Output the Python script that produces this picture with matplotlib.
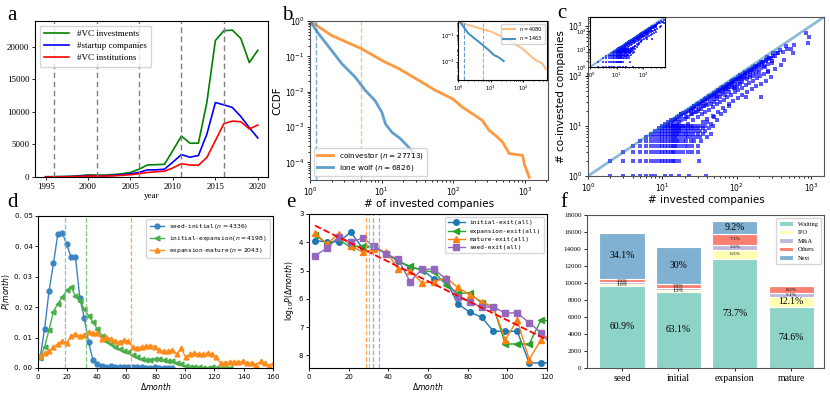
import numpy as np
import matplotlib
matplotlib.use('Agg')
import matplotlib.pyplot as plt

plt.rcParams['mathtext.fontset'] = 'dejavusans'
plt.rcParams['axes.linewidth'] = 0.8
plt.rcParams['xtick.major.width'] = 0.6
plt.rcParams['ytick.major.width'] = 0.6
plt.rcParams['xtick.major.size'] = 2.5
plt.rcParams['ytick.major.size'] = 2.5
plt.rcParams['xtick.minor.size'] = 1.5
plt.rcParams['ytick.minor.size'] = 1.5
plt.rcParams['legend.handlelength'] = 2.2

SERIF = ['Liberation Serif', 'DejaVu Serif']
MONO = ['DejaVu Sans Mono']

# ---- a: yearly counts
years = [1995, 1996, 1997, 1998, 1999, 2000, 2001, 2002, 2003, 2004, 2005, 2006, 2007,
         2008, 2009, 2010, 2011, 2012, 2013, 2014, 2015, 2016, 2017, 2018, 2019, 2020]
vc_investments = [50, 60, 80, 120, 200, 330, 300, 300, 380, 500, 700, 1200, 1850,
                  1900, 1950, 4100, 6300, 5200, 5200, 11500, 21000, 22500, 22600, 21300, 17600, 19500]
startup_companies = [20, 30, 40, 60, 120, 200, 200, 200, 250, 350, 500, 700, 1100,
                     1100, 1200, 2300, 3450, 3050, 3300, 6600, 11450, 11100, 10700, 9300, 7600, 6000]
vc_institutions = [10, 20, 30, 40, 80, 150, 150, 150, 180, 250, 350, 500, 700,
                   800, 900, 1400, 2050, 1850, 1800, 3000, 5600, 8200, 8600, 8500, 7400, 8000]
period_marks = [1996, 2001, 2006, 2011, 2016]

# ---- b: CCDF of invested companies
coinv_x = [1, 2, 5.2, 10.7, 17.4, 33, 56, 98, 133, 184, 254, 316, 390, 486, 570, 600, 930, 980, 1150]
coinv_ccdf = [1, 0.39, 0.166, 0.072, 0.045, 0.021, 0.011, 0.0063, 0.0037, 0.0024, 0.00155,
              0.00081, 0.00058, 0.00038, 0.00022, 0.00018, 0.000158, 0.00009, 0.000038]
lone_x = [1, 1.31, 2.0, 2.78, 4.27, 5.9, 8.1, 10.1, 11.3, 13.9, 18.3, 23.9, 29.6]
lone_ccdf = [1, 0.44, 0.148, 0.062, 0.026, 0.011, 0.0056, 0.0026, 0.00123, 0.00072,
             0.00047, 0.00027, 0.00016]
coinv_mark, lone_mark = 5.2, 1.21
# inset
sub_coinv_x = [1, 3.4, 11, 35.5, 91, 234, 372, 490]
sub_coinv_ccdf = [1, 0.42, 0.178, 0.042, 0.01, 0.0013, 0.00075, 0.00028]
sub_lone_x = [1.15, 2.1, 4.3, 8.7, 12.4, 17.6, 25]
sub_lone_ccdf = [1, 0.133, 0.032, 0.0075, 0.0032, 0.0021, 0.0011]
sub_coinv_mark, sub_lone_mark = 6.0, 1.56

# ---- c: invested vs co-invested
lattice_y = [1, 2, 3, 4, 5, 6, 7, 8, 9, 10]
lattice_x = [
    [2, 3, 4, 5, 6, 7, 8, 11, 13, 17, 23, 39],
    [2, 3, 4, 5, 6, 7, 8, 9, 10, 11, 12, 13, 14, 15, 17, 31],
    [3, 4, 5, 6, 7, 8, 9, 10, 11, 12, 13, 14, 15, 17, 19, 22, 25, 30],
    [4, 5, 6, 7, 8, 9, 10, 11, 12, 13, 14, 15, 16, 18, 20, 22, 25, 30],
    [5, 6, 7, 8, 9, 10, 11, 12, 13, 14, 15, 16, 17, 19, 21, 24, 27, 33],
    [6, 7, 8, 9, 10, 11, 12, 13, 14, 15, 16, 18, 20, 22, 25, 28, 32, 40],
    [7, 8, 9, 10, 11, 12, 13, 14, 15, 16, 17, 19, 21, 23, 26, 30, 35, 45],
    [8, 9, 10, 11, 12, 13, 14, 15, 16, 17, 18, 20, 22, 25, 28, 32, 38],
    [9, 10, 11, 12, 13, 14, 15, 16, 17, 18, 20, 22, 24, 27, 30, 35, 42],
    [10, 11, 12, 13, 14, 15, 16, 17, 18, 19, 20, 22, 24, 26, 29, 33, 38, 48],
]
cloud_x = [11, 12, 13, 14, 15, 16, 17, 18, 20, 20, 22, 22, 24, 25, 26, 28, 28, 30, 30, 32,
           33, 35, 36, 38, 40, 40, 42, 45, 45, 48, 50, 50, 52, 55, 55, 58, 60, 60, 63, 65,
           68, 70, 70, 72, 75, 78, 80, 80, 85, 88, 90, 92, 95, 100, 100, 105, 110, 110, 115,
           120, 120, 125, 130, 135, 140, 140, 150, 150, 160, 165, 170, 180, 180, 190, 200,
           200, 215, 220, 230, 240, 250, 265, 270, 290, 300, 325, 330, 360, 400, 420, 440,
           480, 540, 570, 600, 870, 910, 950, 45, 55, 40, 35, 50, 62, 70, 80, 94, 18, 24,
           27, 34, 44, 58, 66, 76, 86, 98, 112, 128, 145, 175, 210, 260, 310, 380, 460,
           12, 13, 14, 15, 16, 17, 18, 19, 21, 23, 25, 27, 29, 31, 34, 37, 39, 43, 46, 49,
           53, 57, 61, 66, 71, 77, 83, 89, 96, 104, 112, 121, 131, 142, 155, 168, 183, 200,
           220, 245, 275, 310, 350,
           14, 16, 18, 21, 24, 27, 31, 35, 39, 44, 49, 55, 62, 69, 77, 86, 96, 107, 120, 134,
           150, 168, 188, 210, 235, 265, 300,
           22, 26, 30, 34, 38, 43, 48, 54, 60, 67, 75, 84, 94, 105, 118, 132, 148, 166, 186,
           208, 233, 262,
           40, 48, 57, 66, 78, 90, 104, 120, 140, 160, 185, 215, 250, 290]
cloud_y = [11, 11, 12, 11, 13, 14, 12, 16, 18, 14, 20, 15, 21, 17, 23, 24, 19, 27, 20, 26,
           22, 31, 25, 33, 34, 26, 37, 38, 28, 42, 44, 30, 40, 47, 35, 50, 52, 38, 55, 48,
           58, 60, 42, 55, 64, 60, 70, 48, 72, 66, 78, 56, 80, 85, 62, 88, 92, 70, 95,
           100, 75, 90, 110, 38, 115, 85, 120, 95, 130, 100, 140, 150, 110, 155, 165,
           120, 38, 170, 190, 150, 200, 120, 215, 230, 180, 140, 250, 280, 165, 300, 205,
           350, 350, 290, 420, 705, 445, 600, 11, 13, 12, 12, 15, 17, 20, 25, 56, 17, 22,
           25, 30, 40, 52, 60, 68, 78, 88, 100, 115, 130, 160, 190, 235, 280, 330, 400,
           12, 13, 13, 14, 15, 16, 17, 18, 19, 21, 23, 25, 27, 29, 31, 34, 36, 39, 42, 45,
           48, 52, 56, 60, 65, 70, 76, 82, 88, 95, 102, 110, 118, 128, 138, 150, 160, 175,
           190, 210, 230, 255, 280,
           10, 11, 13, 15, 17, 19, 22, 25, 28, 31, 35, 39, 44, 49, 55, 61, 68, 76, 85, 95,
           105, 118, 130, 145, 160, 175, 195,
           11, 13, 15, 17, 19, 21, 24, 27, 30, 33, 37, 42, 47, 52, 58, 65, 72, 80, 90,
           100, 110, 125,
           14, 16, 19, 23, 27, 31, 36, 42, 48, 55, 62, 70, 80, 95]

# ---- d: waiting time between stages
d_month = [1.5, 4.5, 7.5, 10.5, 13.5, 16.5, 19.5, 22.5, 25.5, 28.5, 31.5, 34.5, 37.5, 40.5,
           43.5, 46.5, 49.5, 52.5, 55.5, 58.5, 61.5, 64.5, 67.5, 70.5, 73.5, 76.5, 79.5, 82.5,
           85.5, 88.5, 91.5, 94.5, 97.5, 100.5, 103.5, 106.5, 109.5, 112.5, 115.5, 118.5,
           121.5, 124.5, 127.5, 130.5, 133.5, 136.5, 139.5, 142.5, 145.5, 148.5, 151.5,
           154.5, 157.5, 160.5]
p_seed_initial = [0.0036, 0.0129, 0.0253, 0.0344, 0.0441, 0.0445, 0.0407, 0.0365, 0.0365,
                  0.0229, 0.0166, 0.0084, 0.0025, 0.0014, 0.0005, 0.0004, 0.0006, 0.0003,
                  0.0003, 0.0002, 0.0003, 0.0002, 0.0002, 0.0002, 0.0001, 0.0001, 0.0002,
                  0.0001, 0.0001, 0.0001, 0.0001]
p_initial_expansion = [0.0033, 0.0070, 0.0125, 0.0185, 0.0212, 0.0232, 0.0255, 0.0268, 0.0236,
                       0.0222, 0.0193, 0.0172, 0.0150, 0.0128, 0.0106, 0.0090, 0.0078, 0.0068,
                       0.0062, 0.0056, 0.0052, 0.0042, 0.0036, 0.0030, 0.0026, 0.0026, 0.0031,
                       0.0028, 0.0026, 0.0024, 0.0022, 0.0018, 0.0012, 0.0006, 0.0004, 0.0003,
                       0.0002, 0.0001, 0.0001, 0.0002, 0.0001, 0.0001, 0.0001, 0.0001]
p_expansion_mature = [0.0038, 0.0050, 0.0055, 0.0068, 0.0080, 0.0088, 0.0082, 0.0105, 0.0112,
                      0.0105, 0.0110, 0.0120, 0.0115, 0.0115, 0.0095, 0.0102, 0.0095, 0.0088,
                      0.0085, 0.0092, 0.0088, 0.0068, 0.0065, 0.0070, 0.0072, 0.0074, 0.0070,
                      0.0060, 0.0055, 0.0055, 0.0060, 0.0045, 0.0065, 0.0035, 0.0045, 0.0050,
                      0.0045, 0.0045, 0.0050, 0.0045, 0.0035, 0.0015, 0.0018, 0.0020, 0.0020,
                      0.0020, 0.0022, 0.0015, 0.0018, 0.0010, 0.0022, 0.0015, 0.0008, 0.0018]
d_marks = [18.2, 32.7, 63.6]

# ---- e: time to exit
e_month = [3, 9, 15, 21, 27, 33, 39, 45, 51, 57, 63, 69, 75, 81, 87, 93, 99, 105, 111, 117, 123]
lp_initial_exit = [3.94, 3.99, 3.99, 3.64, 4.20, 4.15, 4.42, 4.65, 4.90, 4.95, 5.31, 5.33,
                   6.18, 6.47, 6.65, 7.15, 7.15, 7.15, 8.27, 8.27, 8.27]
lp_expansion_exit = [3.73, 4.05, 3.90, 4.18, 4.12, 4.15, 4.40, 4.68, 4.85, 5.00, 5.05, 5.50,
                     5.80, 5.80, 6.15, 6.30, 7.60, 7.60, 7.60, 6.75, 6.80]
lp_mature_exit = [3.68, 4.05, 3.70, 4.12, 4.35, 4.25, 4.35, 4.95, 5.00, 5.45, 5.40, 5.25,
                  5.60, 5.85, 6.10, 6.30, 7.45, 6.75, 8.15, 7.45, 7.20]
lp_seed_exit = [4.47, 4.22, 3.80, 4.00, 3.85, 4.15, 4.42, 4.60, 5.40, 4.95, 4.95, 5.30,
                5.95, 6.10, 6.30, 6.30, 6.50, 6.50, 6.85, 7.20, 7.70]
fit_month = [3, 120]
fit_lp = [3.41, 7.45]
e_marks = [28.7, 30.0, 32.5, 35.4]

# ---- f: outcome of each stage
stages = ['seed', 'initial', 'expansion', 'mature']
stage_totals = [15920, 14230, 17370, 9630]
outcomes = ['Waiting', 'IPO', 'M&A', 'Others', 'Next']
pct_waiting = [60.9, 63.1, 73.7, 74.6]
pct_ipo = [1.0, 1.2, 6.5, 12.1]
pct_mna = [1.5, 1.5, 3.3, 5.1]
pct_others = [2.5, 3.9, 7.1, 8.2]
pct_next = [34.1, 30.0, 9.2, 0.0]
pct_text = [['60.9%', '1.0%', '1.5%', '2.5%', '34.1%'],
            ['63.1%', '1.2%', '1.5%', '3.9%', '30%'],
            ['73.7%', '6.5%', '3.3%', '7.1%', '9.2%'],
            ['74.6%', '12.1%', '5.1%', '8.2%', '']]

W, H = 830, 395


def box(l, t, r, b):
    return [l / W, 1 - b / H, (r - l) / W, (b - t) / H]


fig = plt.figure(figsize=(8.3, 3.95), dpi=100)

# a
ax = fig.add_axes(box(35, 21, 268, 177))
ax.plot(years, vc_investments, color='green', lw=1.2, label='#VC investments')
ax.plot(years, startup_companies, color='blue', lw=1.2, label='#startup companies')
ax.plot(years, vc_institutions, color='red', lw=1.2, label='#VC institutions')
for yr in period_marks:
    ax.axvline(yr, color='gray', ls='--', lw=1, dashes=(4, 2.5))
ax.set_xlim(1993.75, 2021.2)
ax.set_ylim(0, 24000)
ax.set_xticks([1995, 2000, 2005, 2010, 2015, 2020])
ax.set_yticks([0, 5000, 10000, 15000, 20000])
ax.tick_params(labelsize=6.5, labelfontfamily=SERIF, pad=1.5)
ax.set_xlabel('year', fontsize=6.5, family=SERIF, labelpad=1)
ax.legend(loc='upper left', prop={'family': SERIF, 'size': 6.5}, handlelength=2.8,
          borderpad=0.5, labelspacing=0.4)

# b
ax = fig.add_axes(box(310, 21, 548, 180))
ax.loglog(coinv_x, coinv_ccdf, color='tab:orange', alpha=0.8, lw=2,
          label='coinvestor ($n = 27713$)')
ax.loglog(lone_x, lone_ccdf, color='tab:blue', alpha=0.7, lw=2,
          label='lone wolf ($n = 6826$)')
ax.axvline(lone_mark, color='tab:blue', alpha=0.6, ls='--', lw=1)
ax.axvline(coinv_mark, color='tab:orange', alpha=0.5, ls='--', lw=1)
ax.set_xlim(1, 2100)
ax.set_ylim(3.2e-5, 1)
ax.tick_params(labelsize=5.5, pad=1.5)
ax.set_ylabel('CCDF', fontsize=7.5, labelpad=2)
ax.set_xlabel('# of invested companies', fontsize=7.5, labelpad=1)
ax.legend(loc='lower left', fontsize=5.3, borderpad=0.4, labelspacing=0.3)
for s in ax.spines.values():
    s.set_color('#555555')

axi = fig.add_axes(box(458, 21, 547, 80))
axi.loglog(sub_coinv_x, sub_coinv_ccdf, color='tab:orange', alpha=0.5, lw=1.5,
           label='$n = 4080$')
axi.loglog(sub_lone_x, sub_lone_ccdf, color='tab:blue', alpha=0.8, lw=1.5,
           label='$n = 1463$')
axi.axvline(sub_lone_mark, color='tab:blue', alpha=0.7, ls='--', lw=0.8)
axi.axvline(sub_coinv_mark, color='tab:orange', alpha=0.8, ls='--', lw=0.8)
axi.set_xlim(1, 530)
axi.set_ylim(4e-5, 1.2)
axi.set_yticks([1e-1, 1e-3])
axi.tick_params(labelsize=3.8, pad=1, length=1.5)
axi.tick_params(which='minor', length=1)
axi.legend(loc='upper right', fontsize=3.6, borderpad=0.3, labelspacing=0.3, handlelength=2.5)

# c
sc_x = [x for row in lattice_x for x in row] + cloud_x
sc_y = [y for y, row in zip(lattice_y, lattice_x) for _ in row] + cloud_y
ax = fig.add_axes(box(588, 17, 824, 176))
ax.plot([1, 2000], [1, 2000], color='tab:blue', alpha=0.5, lw=2)
ax.scatter(sc_x, sc_y, s=5, marker='s', color='blue', alpha=0.65, linewidths=0)
ax.set_xscale('log')
ax.set_yscale('log')
ax.set_xlim(1, 1500)
ax.set_ylim(1, 1500)
ax.tick_params(labelsize=5.5, pad=1.5)
ax.set_xlabel('# invested companies', fontsize=7.5, labelpad=1)
ax.set_ylabel('# co-invested companies', fontsize=7.5, labelpad=1)
for s in ax.spines.values():
    s.set_color('#555555')

axi = fig.add_axes(box(590, 17, 665, 67))
axi.plot([1, 2000], [1, 2000], color='tab:blue', alpha=0.5, lw=1.5)
axi.scatter(sc_x, sc_y, s=3, marker='s', color='blue', alpha=0.7, linewidths=0)
axi.set_xscale('log')
axi.set_yscale('log')
axi.set_xlim(1, 640)
axi.set_ylim(1, 640)
axi.tick_params(labelsize=3.8, pad=1, length=1.5)
axi.tick_params(which='minor', length=1)

# d
ax = fig.add_axes(box(38, 216, 273, 368))
ax.plot(d_month[:len(p_seed_initial)], p_seed_initial, color='#3b84c4', marker='o', ms=3.5,
        lw=1, label='seed-initial($n=4336$)')
ax.plot(d_month[:len(p_initial_expansion)], p_initial_expansion, color='#4cae4c', marker='<',
        ms=3.5, lw=1, label='initial-expansion($n=4198$)')
ax.plot(d_month[:len(p_expansion_mature)], p_expansion_mature, color='#ff8c1a', marker='^',
        ms=3.5, lw=1, label='expansion-mature($n=2043$)')
for xm, c in zip(d_marks, ['#8fbbd9', '#80c880', '#ffa64d']):
    ax.axvline(xm, color=c, ls='--', lw=0.9)
ax.set_xlim(0, 160)
ax.set_ylim(0, 0.05)
ax.set_xticks([0, 20, 40, 60, 80, 100, 120, 140, 160])
ax.set_yticks([0, 0.01, 0.02, 0.03, 0.04, 0.05])
ax.set_yticklabels(['0. 00', '0. 01', '0. 02', '0. 03', '0. 04', '0. 05'])
ax.tick_params(labelsize=5, pad=1.5)
ax.set_xlabel(r'$\Delta month$', fontsize=5.5, labelpad=1)
ax.set_ylabel(r'$P(month)$', fontsize=5.5, labelpad=2)
ax.legend(loc='upper right', prop={'family': MONO, 'size': 4.4}, borderpad=0.5,
          labelspacing=0.5, handlelength=2.4)

# e
ax = fig.add_axes(box(309, 214, 547, 368))
ax.plot(e_month, lp_initial_exit, color='tab:blue', marker='o', ms=4, lw=1,
        label='initial-exit(all)')
ax.plot(e_month, lp_expansion_exit, color='tab:green', marker='<', ms=4, lw=1,
        label='expansion-exit(all)')
ax.plot(e_month, lp_mature_exit, color='tab:orange', marker='^', ms=4, lw=1,
        label='mature-exit(all)')
ax.plot(e_month, lp_seed_exit, color='tab:purple', marker='s', ms=4, lw=1,
        label='seed-exit(all)')
ax.plot(fit_month, fit_lp, color='red', ls='--', lw=1.3)
for xm, c in zip(e_marks, ['#ffa64d', '#a6c8e3', '#80c880', '#c39bd3']):
    ax.axvline(xm, color=c, ls='--', lw=0.9)
ax.set_xlim(0, 120)
ax.set_ylim(8.45, 3)
ax.set_xticks([0, 20, 40, 60, 80, 100, 120])
ax.set_yticks([3, 4, 5, 6, 7, 8])
ax.tick_params(labelsize=5, pad=1.5)
ax.set_xlabel(r'$\Delta month$', fontsize=5.5, labelpad=1)
ax.set_ylabel(r'$\mathrm{log}_{10}P(\Delta month)$', fontsize=5.5, labelpad=2)
ax.legend(loc='upper right', prop={'family': MONO, 'size': 4.4}, borderpad=0.5,
          labelspacing=0.5, handlelength=2.8)

# f
ax = fig.add_axes(box(587, 215, 824, 368))
colors_f = ['#8dd3c7', '#ffffb3', '#bebada', '#fb8072', '#80b1d3']
pcts = [pct_waiting, pct_ipo, pct_mna, pct_others, pct_next]
xpos = np.arange(len(stages))
bottom = np.zeros(len(stages))
for k, (name, pc, col) in enumerate(zip(outcomes, pcts, colors_f)):
    h = np.array(stage_totals) * np.array(pc) / 100
    ax.bar(xpos, h, 0.8, bottom=bottom, color=col, edgecolor='white', lw=0.8, label=name)
    for i in range(len(stages)):
        txt = pct_text[i][k]
        if txt:
            big = pc[i] >= 9
            ax.text(xpos[i], bottom[i] + h[i] / 2, txt, ha='center', va='center',
                    family=SERIF, fontsize=7 if big else 3.8)
    bottom = bottom + h
ax.set_xlim(-0.62, 3.58)
ax.set_ylim(0, 18000)
ax.set_yticks(range(0, 18001, 2000))
ax.set_xticks(xpos)
ax.set_xticklabels(stages)
ax.tick_params(axis='y', labelsize=5, labelfontfamily=SERIF, pad=1.5)
ax.tick_params(axis='x', labelsize=7, labelfontfamily=SERIF, pad=2)
ax.legend(loc='upper right', prop={'family': SERIF, 'size': 4.5}, borderpad=0.5,
          labelspacing=0.5, handlelength=2.2)
for s in ax.spines.values():
    s.set_color('#555555')

# panel letters
for lab, (px, py) in zip('abcdef', [(12, 15), (287, 15), (562, 14), (12, 203), (291, 203),
                                    (564, 203)]):
    fig.text(px / W, 1 - py / H, lab, family=SERIF, fontsize=15, ha='center', va='center')

fig.savefig('out.png', dpi=100)
